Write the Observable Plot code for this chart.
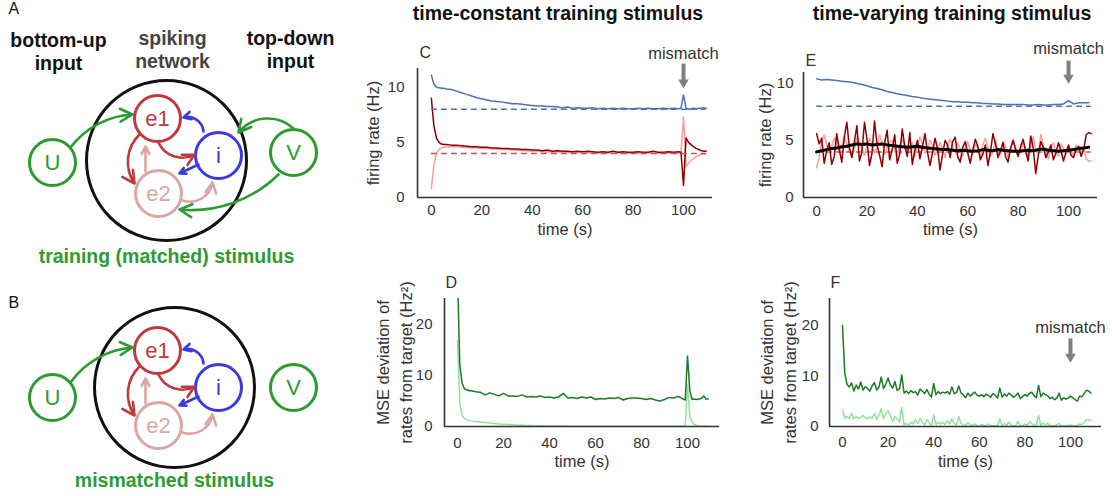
<!DOCTYPE html>
<html><head><meta charset="utf-8">
<script src="https://cdn.jsdelivr.net/npm/d3@7"></script>
<script src="https://cdn.jsdelivr.net/npm/@observablehq/plot@0.6"></script>
<style>
body{margin:0;background:#fff;}
#fig{position:relative;width:1112px;height:496px;overflow:hidden;background:#fff;font-family:"Liberation Sans",Arial,Helvetica,sans-serif;}
.title{position:absolute;font-weight:bold;font-size:19.5px;line-height:20px;color:#111;white-space:nowrap;transform:translateX(-50%);}
</style></head><body><div id="fig"></div>
<script>
// ---------------- DATA ----------------
const xTicks = [0, 20, 40, 60, 80, 100];
const rateTicks = [0, 5, 10];
const mseTicks = [0, 10, 20];
const targetI = 8.0;
const targetE = 4.0;
const mismatchTime = 100;

// Panel C (time-constant stimulus)
const tC = [0,1,2,3,4,5,6,8,10,12,14,16,18,20,22,24,26,28,30,32,34,36,38,40,42,44,46,48,50,52,54,56,58,60,62,64,66,68,70,72,74,76,78,80,82,84,86,88,90,92,94,96,98,99,100,101,102,103,104,105,106,107,108,109];
const rateI_C = [11.1,10.3,10.0,9.95,9.9,9.9,9.85,
  9.8,9.65,9.5,9.35,9.2,9.05,8.95,8.85,8.75,8.7,
  8.65,8.6,8.5,8.5,8.45,8.4,8.35,8.3,8.3,8.25,
  8.25,8.2,8.15,8.2,8.1,8.15,8.1,8.1,8.15,8.05,
  8.1,8.05,8.1,8.05,8.1,8.05,8.05,8.1,8.05,8.1,
  8.05,8.05,8.1,8.05,8.1,8.05,
  8.1,9.3,8.1,8.0,8.05,8.1,8.05,8.1,8.1,8.15,8.1];
const rateE1_C = [9.0,6.5,5.4,5.0,4.85,4.8,4.8,
  4.75,4.75,4.7,4.65,4.6,4.6,4.55,4.55,4.5,4.5,
  4.45,4.45,4.4,4.4,4.35,4.35,4.3,4.3,4.25,4.3,
  4.2,4.25,4.2,4.2,4.15,4.2,4.15,4.2,4.15,4.1,
  4.15,4.1,4.2,4.1,4.15,4.1,4.1,4.15,4.1,4.1,
  4.2,4.1,4.1,4.15,4.1,4.15,
  4.1,1.1,5.4,5.0,4.8,4.6,4.45,4.35,4.25,4.2,4.2];
const rateE2_C = [0.8,3.0,4.0,4.35,4.5,4.55,4.6,
  4.6,4.6,4.55,4.55,4.5,4.5,4.45,4.45,4.4,4.4,
  4.35,4.35,4.3,4.3,4.25,4.25,4.2,4.2,4.15,4.15,
  4.1,4.15,4.1,4.1,4.05,4.1,4.05,4.05,4.1,4.05,
  4.0,4.05,4.0,4.05,4.0,4.0,4.05,4.0,4.0,4.05,
  4.0,4.0,4.0,4.05,4.0,4.0,
  4.0,7.3,2.8,3.1,3.35,3.55,3.7,3.8,3.9,3.95,4.0];

// Panel D (MSE, time-constant)
const mseTrain_D = [30,12,8.5,7.4,7.2,7.0,7.0,
  6.8,6.7,6.2,6.6,6.3,6.0,6.5,6.0,6.0,5.9,
  6.2,5.8,5.9,5.8,6.0,5.7,5.8,5.6,5.8,6.5,
  5.6,5.7,5.5,5.8,5.6,5.8,5.3,5.5,5.4,5.6,
  5.5,5.7,5.2,5.5,5.6,5.6,5.5,5.3,5.5,5.2,
  5.0,5.3,5.7,5.6,5.9,5.4,
  5.2,13.8,7.0,5.3,5.4,5.3,5.4,5.5,6.0,5.4,5.4];
const mseMean_D = [16.9,4.5,2.2,1.6,1.3,1.2,1.1,
  1.0,0.9,0.8,0.7,0.6,0.5,0.45,0.4,0.35,0.3,
  0.25,0.2,0.2,0.15,0.15,0.1,0.1,0.1,0.08,0.08,
  0.07,0.06,0.06,0.05,0.05,0.05,0.05,0.05,0.05,0.05,
  0.05,0.05,0.05,0.05,0.05,0.05,0.05,0.05,0.05,0.05,
  0.05,0.05,0.05,0.05,0.05,0.05,
  0.05,8.2,2.0,0.8,0.4,0.2,0.1,0.05,0.05,0.05,0.05];

// Panel E (time-varying stimulus)
const tE = d3.range(0, 110);
const tE2 = d3.range(0, 110, 2);
const rateI_E = [10.4,10.3,10.35,10.3,10.25,10.2,10.15,10.1,10.0,9.9,
  9.8,9.65,9.55,9.45,9.3,9.2,9.1,9.0,8.95,8.85,
  8.8,8.7,8.65,8.6,8.55,8.5,8.45,8.4,8.4,8.35,
  8.35,8.3,8.3,8.25,8.25,8.2,8.2,8.15,8.15,8.15,
  8.15,8.15,8.1,8.1,8.15,8.1,8.1,8.15,8.15,8.2,
  8.5,8.2,8.3,8.3,8.3];
const rateE1_E = [5.6,4.7,5.2,3.0,4.1,4.8,2.9,3.6,5.6,4.2,
  3.1,5.3,6.6,4.4,3.5,4.9,6.3,3.2,4.0,6.6,
  5.1,2.8,3.9,6.7,4.6,3.7,2.7,4.8,5.9,3.3,
  4.2,5.5,3.0,3.8,6.0,4.5,3.6,5.7,2.9,4.1,
  5.0,3.4,4.4,5.6,4.0,2.8,3.9,5.2,4.3,2.4,
  3.8,5.0,4.6,3.5,4.9,5.3,3.6,3.1,4.4,4.9,
  3.9,3.0,4.2,5.1,4.5,3.3,3.8,4.6,2.8,4.0,
  5.6,4.7,3.5,4.1,4.8,3.6,3.1,4.3,5.0,4.2,
  3.6,4.5,5.1,4.0,3.2,5.4,4.3,2.1,3.7,4.9,
  4.4,3.5,4.0,4.6,3.3,3.9,4.8,4.1,3.2,4.0,
  4.6,3.7,3.5,4.2,4.5,3.6,4.2,5.5,5.7,5.6];
const rateE2_E = [2.6,3.5,4.9,5.5,4.6,3.9,4.5,5.2,4.8,4.0,
  4.4,5.4,4.7,4.1,3.6,4.3,5.3,4.9,4.2,3.7,
  4.5,5.2,4.6,3.9,4.4,5.5,4.8,3.8,4.3,4.9,
  5.0,4.2,3.7,4.6,5.1,4.5,3.9,4.3,4.8,3.6,
  4.4,5.3,4.7,3.9,4.1,5.0,4.6,3.7,4.2,4.8,
  4.3,3.5,4.6,5.1,4.4,3.9,4.8,4.2,3.6,4.4,
  4.9,4.1,3.8,4.7,4.3,3.5,4.6,5.2,4.4,3.6,
  4.0,5.0,4.2,3.8,4.9,4.5,3.5,4.3,5.1,4.4,
  3.7,4.0,4.8,4.3,3.6,4.5,5.3,4.1,3.9,5.5,
  4.6,3.7,3.4,4.4,4.8,4.0,3.6,4.7,4.3,3.8,
  4.5,4.1,3.7,4.6,4.2,3.9,4.4,3.4,3.2,3.2];
const rateEmean_E = [4.0,4.1,4.2,4.3,4.35,4.45,4.5,4.6,4.7,4.65,
  4.7,4.6,4.65,4.7,4.6,4.55,4.5,4.45,4.4,4.45,
  4.5,4.4,4.35,4.3,4.25,4.2,4.2,4.15,4.1,4.15,
  4.1,4.05,4.1,4.2,4.15,4.1,4.2,4.15,4.1,4.05,
  4.05,4.1,4.15,4.1,4.2,4.25,4.15,4.1,4.05,4.1,
  4.15,4.2,4.3,4.35,4.4];

// Panel F (MSE, time-varying)
const mseTrain_F = [20,10.5,8.3,7.8,8.6,7.0,8.2,7.4,8.8,7.2,
  7.9,7.5,7.0,8.0,8.7,7.2,7.8,9.8,7.5,8.4,
  9.6,8.2,7.6,8.9,7.1,7.5,10.2,6.6,7.0,6.5,
  7.1,6.7,6.9,6.2,7.4,7.0,6.5,7.3,6.4,5.8,
  8.5,6.3,6.9,6.5,6.8,6.6,6.9,6.4,7.8,6.5,
  6.7,8.0,6.6,6.3,5.7,6.6,6.0,6.4,6.8,6.2,
  6.0,6.3,5.9,6.4,6.1,5.8,6.5,6.2,5.6,7.6,
  5.8,6.4,6.0,6.6,6.2,5.8,6.1,6.6,5.5,5.9,
  6.3,6.0,6.5,6.8,6.1,5.7,8.1,5.9,6.6,6.3,
  6.1,5.5,5.8,5.3,5.6,6.6,5.2,5.7,5.4,5.6,
  6.0,5.7,5.3,5.0,6.0,5.9,6.5,7.2,7.0,6.6];
const mseMean_F = [3.2,1.6,2.0,1.6,2.6,1.5,2.0,1.6,1.8,2.2,
  1.7,1.5,1.9,1.6,2.6,1.4,2.2,3.5,1.6,2.4,
  3.1,2.2,1.0,2.0,1.5,0.9,3.7,0.4,0.6,0.3,
  0.8,0.5,1.3,0.6,1.6,0.9,0.3,1.4,0.7,0.2,
  2.3,0.4,0.9,0.5,0.8,0.4,1.1,0.5,1.5,0.6,
  0.3,2.0,0.6,0.3,0.2,0.8,0.3,0.2,0.5,0.2,
  0.1,0.4,0.2,0.1,0.5,0.2,0.1,0.2,0.1,1.5,
  0.2,0.6,0.2,0.9,0.3,0.1,0.2,1.0,0.1,0.2,
  0.5,0.2,0.9,0.6,0.2,0.3,2.2,0.2,0.7,0.3,
  0.6,0.1,0.2,0.1,0.3,0.6,0.1,0.2,0.1,0.2,
  0.3,0.1,0.1,0.2,0.5,0.4,0.8,1.3,1.4,1.1];

// Network diagram (nodes U, e1, i, e2, V)
const nodeLabels = ["U", "e1", "i", "e2", "V"];

// ---------------- STYLE / LAYOUT ----------------
const FONT = '"Liberation Sans", Arial, Helvetica, sans-serif';
const C_BLUE = "#4c72b0", C_DRED = "#8e0000", C_PINK = "#ff9c9c", C_RDASH = "#c9545a";
const C_DGREEN = "#1b7a24", C_LGREEN = "#8fe3a0", C_GRAY = "#7f7f7f", AX = "#333";
const G = "#2e9a32", R = "#c0393c", B = "#3a3ade", P = "#dca5a5";
const nodeColor = {U: G, e1: R, i: B, e2: P, V: G};

const fig = document.getElementById("fig");
function place(el, left, top) {
  el.style.position = "absolute";
  el.style.left = left + "px";
  el.style.top = top + "px";
  fig.appendChild(el);
}
const series = (ts, vs) => ts.map((t, i) => ({t, v: vs[i]}));

function mismatch(yText, yS1, yS2, yHead) {
  return [
    Plot.text(["mismatch"], {x: mismatchTime, y: yText, text: d => d, fontSize: 16.5, fill: "#333"}),
    Plot.link([0], {x1: mismatchTime, x2: mismatchTime, y1: yS1, y2: yS2, stroke: C_GRAY, strokeWidth: 4}),
    Plot.dot([0], {x: mismatchTime, y: yHead, symbol: "triangle", r: 3.9, fill: C_GRAY, rotate: 180})
  ];
}

function panel(o) {
  const svg = Plot.plot({
    width: o.width, height: o.height,
    marginLeft: o.ml, marginRight: o.mr, marginTop: o.mt, marginBottom: o.mb,
    x: {domain: o.xd, axis: null},
    y: {domain: o.yd, axis: null},
    style: {fontFamily: FONT, fontSize: "15px", color: AX, background: "transparent", overflow: "visible"},
    marks: [
      Plot.axisX({ticks: xTicks, tickSize: 0, tickPadding: o.xPad, label: null}),
      Plot.axisY({ticks: o.yTicks, tickSize: 0, tickPadding: o.yPad, label: null}),
      ...o.marks,
      Plot.ruleX([o.xd[0]], {stroke: AX, strokeWidth: 1.6}),
      Plot.ruleY([0], {stroke: AX, strokeWidth: 1.6}),
      Plot.text([o.ylabel], {text: d => d, frameAnchor: "left", textAnchor: "middle", lineAnchor: "middle", dx: o.ylDx, rotate: -90, fontSize: 16.5, lineHeight: 1.4}),
      Plot.text(["time (s)"], {text: d => d, frameAnchor: "bottom", textAnchor: "middle", lineAnchor: "middle", dy: o.xlDy, fontSize: 16.5}),
      Plot.text([o.letter], {text: d => d, frameAnchor: "top-left", textAnchor: "start", lineAnchor: "middle", dx: o.lDx, dy: o.lDy, fontSize: 16})
    ]
  });
  place(svg, o.left, o.top);
}

// Titles
for (const [txt, cx] of [["time-constant training stimulus", 558], ["time-varying training stimulus", 952]]) {
  const d = document.createElement("div");
  d.className = "title"; d.textContent = txt;
  d.style.left = cx + "px"; d.style.top = "3px";
  fig.appendChild(d);
}

// Panel C
panel({
  left: 330, top: 30, width: 400, height: 215, ml: 87, mr: 18, mt: 38, mb: 48,
  xd: [-5.5, 111.5], yd: [0, 11.7], yTicks: rateTicks, xPad: 7, yPad: 13,
  ylabel: "firing rate (Hz)", ylDx: -46, xlDy: 32, letter: "C", lDx: 2, lDy: -16,
  marks: [
    Plot.line(series(tC, rateI_C), {x: "t", y: "v", stroke: C_BLUE, strokeWidth: 1.5}),
    Plot.line(series(tC, rateE2_C), {x: "t", y: "v", stroke: C_PINK, strokeWidth: 1.5}),
    Plot.line(series(tC, rateE1_C), {x: "t", y: "v", stroke: C_DRED, strokeWidth: 1.5}),
    Plot.ruleY([targetI], {x1: 0, x2: 109, stroke: C_BLUE, strokeWidth: 1.5, strokeDasharray: "6,4"}),
    Plot.ruleY([targetE], {x1: 0, x2: 109, stroke: C_RDASH, strokeWidth: 1.5, strokeDasharray: "6,4"}),
    ...mismatch(13.06, 12.15, 10.6, 10.43)
  ]
});

// Panel E
panel({
  left: 730, top: 30, width: 382, height: 215, ml: 73, mr: 15, mt: 42, mb: 48,
  xd: [-5.2, 111.5], yd: [0, 10.96], yTicks: rateTicks, xPad: 8, yPad: 10,
  ylabel: "firing rate (Hz)", ylDx: -40, xlDy: 32, letter: "E", lDx: 2, lDy: -12,
  marks: [
    Plot.line(series(tE2, rateI_E), {x: "t", y: "v", stroke: C_BLUE, strokeWidth: 1.5}),
    Plot.ruleY([targetI], {x1: 0, x2: 109, stroke: C_BLUE, strokeWidth: 1.5, strokeDasharray: "6,4"}),
    Plot.ruleY([targetE], {x1: 0, x2: 109, stroke: C_RDASH, strokeWidth: 1.5, strokeDasharray: "6,4"}),
    Plot.line(series(tE, rateE2_E), {x: "t", y: "v", stroke: C_PINK, strokeWidth: 1.5}),
    Plot.line(series(tE, rateE1_E), {x: "t", y: "v", stroke: C_DRED, strokeWidth: 1.5}),
    Plot.line(series(tE2, rateEmean_E), {x: "t", y: "v", stroke: "#000", strokeWidth: 3}),
    ...mismatch(13.07, 12.0, 10.7, 10.5)
  ]
});

// Panel D
panel({
  left: 330, top: 260, width: 400, height: 220, ml: 114, mr: 11, mt: 38, mb: 54,
  xd: [-5.65, 113.9], yd: [0, 25.1], yTicks: mseTicks, xPad: 11, yPad: 12,
  ylabel: "MSE deviation of\nrates from target (Hz²)", ylDx: -51, xlDy: 35, letter: "D", lDx: 1, lDy: -16,
  marks: [
    Plot.line(series(tC, mseMean_D), {x: "t", y: "v", stroke: C_LGREEN, strokeWidth: 1.5, clip: true}),
    Plot.line(series(tC, mseTrain_D), {x: "t", y: "v", stroke: C_DGREEN, strokeWidth: 1.5, clip: true})
  ]
});

// Panel F
panel({
  left: 730, top: 260, width: 382, height: 220, ml: 99, mr: 11, mt: 38, mb: 54,
  xd: [-5.7, 113.6], yd: [0, 25.3], yTicks: mseTicks, xPad: 10, yPad: 11,
  ylabel: "MSE deviation of\nrates from target (Hz²)", ylDx: -52, xlDy: 35, letter: "F", lDx: 1, lDy: -16,
  marks: [
    Plot.line(series(tE, mseMean_F), {x: "t", y: "v", stroke: C_LGREEN, strokeWidth: 1.5, clip: true}),
    Plot.line(series(tE, mseTrain_F), {x: "t", y: "v", stroke: C_DGREEN, strokeWidth: 1.5, clip: true}),
    ...mismatch(19.57, 17.4, 14.3, 13.8)
  ]
});

// ---------------- Diagram (A, B) ----------------
const layoutA = {dy: 0, uvdy: 0, big: [166, 160]};
const layoutB = {dy: 232, uvdy: 235, big: [174, 387]};
const nodeXY = {U: [52, 162], e1: [157, 118], i: [218, 155], e2: [158, 193], V: [293, 152]};
// edges: from, to, x1, y1, x2, y2, bend
const edgesAll = [
  ["U", "e1", 70, 147, 132, 114, 25],
  ["V", "i", 293, 128, 238, 132, -47],
  ["V", "e2", 278, 174, 179, 209, 25],
  ["e1", "e2", 139, 134, 134, 183, -40],
  ["e1", "i", 158, 142, 194, 154, -47],
  ["i", "e1", 203, 131, 183, 117, -50],
  ["i", "e2", 198, 164, 179, 173, 0],
  ["e2", "e1", 145, 171, 145, 146, 0],
  ["e2", "i", 182, 200, 212, 182, -50]
];
function networkMarks(lay, withV) {
  const nodes = nodeLabels.map(l => {
    const [x, y] = nodeXY[l];
    const d = (l === "U" || l === "V") ? lay.uvdy : lay.dy;
    return {label: l, x, y: y + d};
  });
  const marks = [
    Plot.dot([lay.big], {x: d => d[0], y: d => d[1], r: 80, stroke: "#111", strokeWidth: 3, fill: "none"}),
    Plot.dot(nodes, {x: "x", y: "y", r: 23, stroke: d => nodeColor[d.label], strokeWidth: 3, fill: "white"})
  ];
  for (const e of edgesAll) {
    if (!withV && e[0] === "V") continue;
    const d1 = (e[0] === "U" || e[0] === "V") ? lay.uvdy : lay.dy;
    const d2 = (e[0] === "U") ? lay.dy + (lay.uvdy ? 1 : 0) : lay.dy;
    marks.push(Plot.arrow([e], {x1: d => d[2], y1: d => d[3] + d1, x2: d => d[4], y2: d => d[5] + d2,
      bend: e[6], stroke: nodeColor[e[0]], strokeWidth: 2.6, headLength: 8, headAngle: 55}));
  }
  marks.push(Plot.text(nodes, {x: "x", y: "y", text: "label", fill: d => nodeColor[d.label], fontSize: 22}));
  return marks;
}
const diag = Plot.plot({
  width: 330, height: 496, margin: 0,
  x: {domain: [0, 330], range: [0, 330], axis: null},
  y: {domain: [0, 496], range: [0, 496], axis: null},
  color: {type: "identity"},
  style: {fontFamily: FONT, background: "transparent", overflow: "visible"},
  marks: [
    ...networkMarks(layoutA, true),
    ...networkMarks(layoutB, false),
    Plot.text(["A"], {x: 8, y: 8, text: d => d, textAnchor: "start", fontSize: 16, fill: "#111"}),
    Plot.text(["B"], {x: 8, y: 302, text: d => d, textAnchor: "start", fontSize: 16, fill: "#111"}),
    Plot.text(["bottom-up\ninput"], {x: 58, y: 50.5, text: d => d, fontSize: 19.5, fontWeight: "bold", lineHeight: 1.18, fill: "#111"}),
    Plot.text(["spiking\nnetwork"], {x: 172, y: 48.5, text: d => d, fontSize: 19.5, fontWeight: "bold", lineHeight: 1.18, fill: "#444"}),
    Plot.text(["top-down\ninput"], {x: 290, y: 49, text: d => d, fontSize: 19.5, fontWeight: "bold", lineHeight: 1.18, fill: "#111"}),
    Plot.text(["training (matched) stimulus"], {x: 166, y: 256, text: d => d, fontSize: 19.5, fontWeight: "bold", fill: G}),
    Plot.text(["mismatched stimulus"], {x: 174, y: 480, text: d => d, fontSize: 19.5, fontWeight: "bold", fill: G})
  ]
});
place(diag, 0, 0);
</script></body></html>
